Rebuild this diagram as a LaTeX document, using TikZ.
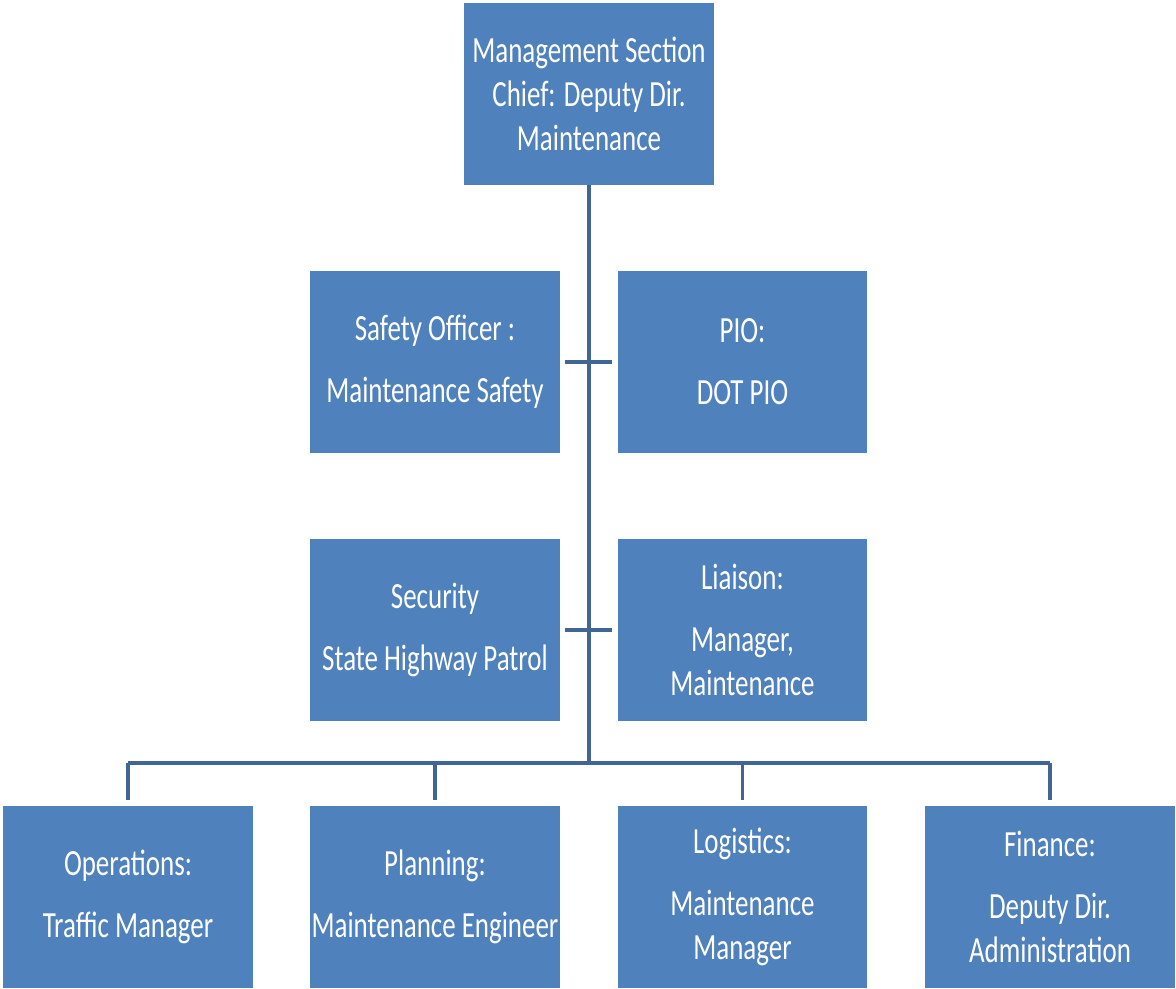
\documentclass[tikz,border=0pt]{standalone}
\usepackage{fontspec}
\setmainfont{Carlito}[FakeStretch=0.73]
\usetikzlibrary{positioning}
\definecolor{boxblue}{RGB}{79,129,189}
\definecolor{lineblue}{RGB}{65,102,150}

\begin{document}
\begin{tikzpicture}[
  x=0.02cm, y=-0.02cm,
  every node/.style={font=\fontsize{21}{25}\selectfont},
  role/.style={rectangle, fill=boxblue, text=white, minimum width=5cm,
               minimum height=3.64cm, align=center, inner sep=0pt},
  link/.style={draw=lineblue, line width=#1},
]
\useasboundingbox (0,0) rectangle (1176,988);

\def\xL{128} \def\xA{435} \def\xC{589} \def\xB{742.5} \def\xR{1050}
\def\yT{94} \def\yS{362} \def\yM{630} \def\yB{897} \def\yH{763}

% Section chief
\node[role] (chief) at (\xC,\yT) {Management Section\\Chief: Deputy Dir.\\Maintenance};

% Command staff
\node[role] (safety) at (\xA,\yS) {Safety Officer :\\[0.36cm]Maintenance Safety};
\node[role] (pio)    at (\xB,\yS) {PIO:\\[0.36cm]DOT PIO};
\node[role] (secur)  at (\xA,\yM) {Security\\[0.36cm]State Highway Patrol};
\node[role] (liais)  at (\xB,\yM) {Liaison:\\[0.36cm]Manager,\\Maintenance};

% General staff
\node[role] (ops)   at (\xL,\yB) {Operations:\\[0.36cm]Traffic Manager};
\node[role] (plan)  at (\xA,\yB) {Planning:\\[0.36cm]Maintenance Engineer};
\node[role] (logi)  at (\xB,\yB) {Logistics:\\[0.36cm]Maintenance\\Manager};
\node[role] (fin)   at (\xR,\yB) {Finance:\\[0.36cm]Deputy Dir.\\Administration};

% Trunk and ticks
\coordinate (hub) at (\xC,\yH);
\draw[link=1.8pt] (chief.south) -- (hub);
\draw[link=2.2pt] ([xshift=0.1cm]safety.east) -- ([xshift=-0.1cm]pio.west);
\draw[link=2.2pt] ([xshift=0.1cm]secur.east) -- ([xshift=-0.1cm]liais.west);

% Bar and drops
\draw[link=2.8pt] (ops.north |- hub) -- (fin.north |- hub);
\foreach \n in {ops,plan,logi,fin}
  \draw[link=1.8pt] (\n.north |- hub) -- ([yshift=0.12cm]\n.north);

\end{tikzpicture}
\end{document}
